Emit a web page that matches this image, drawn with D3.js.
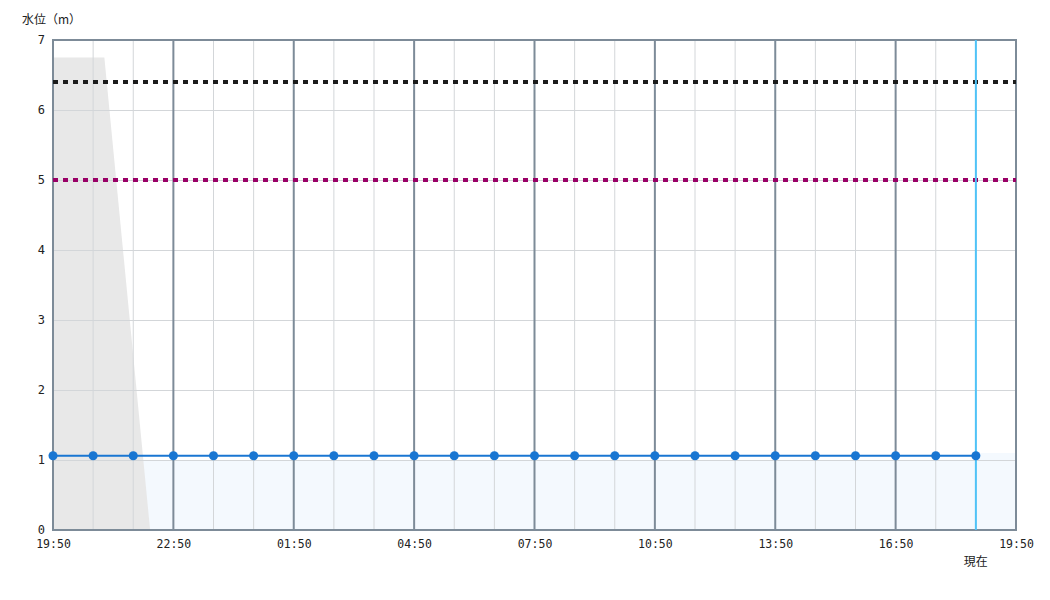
<!DOCTYPE html>
<html><head><meta charset="utf-8">
<script src="https://cdn.jsdelivr.net/npm/d3@7"></script>
<style>body{margin:0;background:#fff;} svg{display:block;}</style>
</head><body>
<svg id="c" width="1050" height="600"></svg>
<script>
// hours since 19:50 (start)
const hourLabels = ["19:50","22:50","01:50","04:50","07:50","10:50","13:50","16:50","19:50"];
const obsHours = d3.range(0, 24); // 19:50 ... 18:50
const obsValues = [1.06,1.06,1.06,1.06,1.06,1.06,1.06,1.06,1.06,1.06,1.06,1.06,1.06,1.06,1.06,1.06,1.06,1.06,1.06,1.06,1.06,1.06,1.06,1.06];
const grayHours = [0, 1.28, 2.42];
const grayValues = [6.75, 6.75, 0];
const fillHours = [0, 23, 23, 24];
const fillValues = [1.0, 1.0, 1.1, 1.1];
const level1 = 6.4;   // black dotted
const level2 = 5.0;   // magenta dotted
const nowHour = 23;
const yTicks = [0,1,2,3,4,5,6,7];

const svg = d3.select("#c");
const L=53, R=1016, T=40, B=530;
const x = d3.scaleLinear().domain([0,24]).range([L,R]);
const y = d3.scaleLinear().domain([0,7]).range([B,T]);

// blue fill
svg.append("path")
  .datum(fillHours.map((h,i)=>[h,fillValues[i]]))
  .attr("fill","#f4f9fe")
  .attr("d", d3.area().x(d=>x(d[0])).y0(y(0)).y1(d=>y(d[1])));

// gray area
svg.append("path")
  .datum(grayHours.map((h,i)=>[h,grayValues[i]]))
  .attr("fill","#e8e8e8")
  .attr("d", d3.area().x(d=>x(d[0])).y0(y(0)).y1(d=>y(d[1])));

// minor grid
const g = svg.append("g");
g.selectAll("line.hm").data(d3.range(1,24).filter(h=>h%3!==0)).join("line")
  .attr("x1",d=>x(d)).attr("x2",d=>x(d)).attr("y1",T).attr("y2",B)
  .attr("stroke","#d3d6d9").attr("stroke-width",1);
g.selectAll("line.hy").data(yTicks.slice(1,7)).join("line")
  .attr("x1",L).attr("x2",R).attr("y1",d=>y(d)+0.5).attr("y2",d=>y(d)+0.5)
  .attr("stroke","#d3d6d9").attr("stroke-width",1);
// major grid
g.selectAll("line.mj").data([3,6,9,12,15,18,21]).join("line")
  .attr("x1",d=>x(d)).attr("x2",d=>x(d)).attr("y1",T).attr("y2",B)
  .attr("stroke","#7d8b98").attr("stroke-width",2);

// frame
svg.append("rect").attr("x",L).attr("y",T).attr("width",R-L).attr("height",B-T)
  .attr("fill","none").attr("stroke","#7d8b98").attr("stroke-width",2);

// reference dotted lines
svg.append("line").attr("x1",L).attr("x2",R).attr("y1",y(level1)).attr("y2",y(level1))
  .attr("stroke","#1c1c1c").attr("stroke-width",4).attr("stroke-dasharray","5,5");
svg.append("line").attr("x1",L).attr("x2",R).attr("y1",y(level2)).attr("y2",y(level2))
  .attr("stroke","#990066").attr("stroke-width",4).attr("stroke-dasharray","5,5");

// now line
svg.append("line").attr("x1",x(nowHour)).attr("x2",x(nowHour)).attr("y1",T).attr("y2",B)
  .attr("stroke","#4fc3f7").attr("stroke-width",2);

// data line
const pts = obsHours.map((h,i)=>[h,obsValues[i]]);
svg.append("path").datum(pts).attr("fill","none").attr("stroke","#1976d2").attr("stroke-width",2)
  .attr("d", d3.line().x(d=>x(d[0])).y(d=>y(d[1])));
svg.selectAll("circle.p").data(pts).join("circle")
  .attr("cx",d=>x(d[0])).attr("cy",d=>y(d[1])).attr("r",4.5).attr("fill","#1976d2");

// axes
const font = "'DejaVu Sans Mono', monospace";
const yAx = svg.append("g").attr("transform",`translate(${L},0)`)
  .call(d3.axisLeft(y).tickValues(yTicks).tickSize(0).tickPadding(8).tickFormat(d3.format("d")));
yAx.select(".domain").remove();
yAx.selectAll("text").attr("font-family",font).attr("font-size",12).attr("fill","#222");

const xAx = svg.append("g").attr("transform",`translate(0,${B})`)
  .call(d3.axisBottom(x).tickValues(d3.range(0,25,3)).tickSize(0).tickPadding(10)
    .tickFormat((d,i)=>hourLabels[i]));
xAx.select(".domain").remove();
xAx.selectAll("text").attr("font-family",font).attr("font-size",11.5).attr("fill","#222");

svg.append("text").attr("x",x(nowHour)).attr("y",566).attr("text-anchor","middle")
  .attr("font-family","'Noto Sans CJK JP', sans-serif").attr("font-size",12).attr("fill","#222").text("現在");
svg.append("text").attr("x",22).attr("y",24)
  .attr("font-family","'Noto Sans CJK JP', sans-serif").attr("font-size",12).attr("fill","#222").text("水位（m）");
</script>
</body></html>
